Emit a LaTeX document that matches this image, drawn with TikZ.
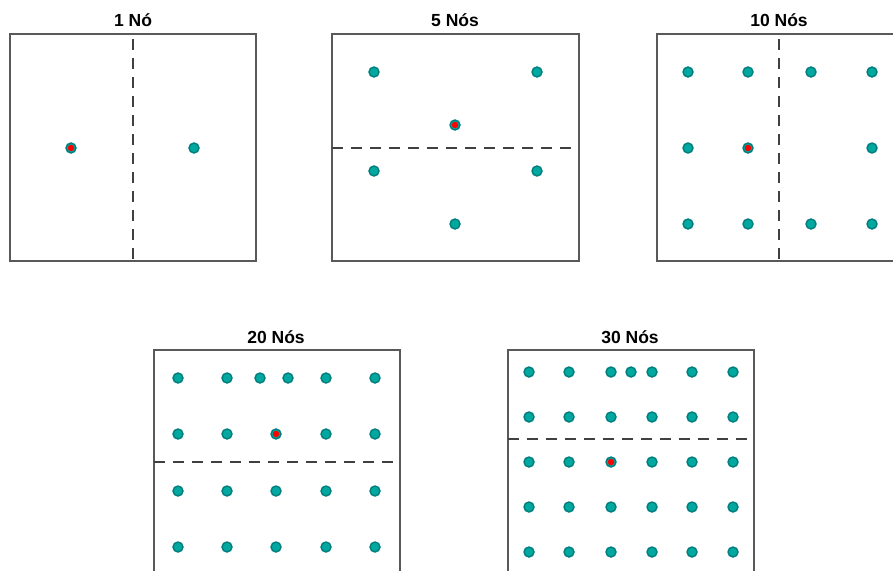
\documentclass[tikz,border=0pt]{standalone}
\usepackage{fontspec}
\setmainfont{Liberation Sans}
\definecolor{dotfill}{RGB}{0,168,160}
\definecolor{dotline}{RGB}{0,125,125}
\begin{document}
\begin{tikzpicture}[x=1pt,y=-1pt,
  frame/.style={draw=black!65,line width=1.3pt},
  divider/.style={draw=black!75,line width=1.2pt,dash pattern=on 11pt off 8pt},
  vdivider/.style={divider,dash phase=14pt},
  dot/.style={circle,fill=dotfill,draw=dotline,line width=1.4pt,minimum size=10pt,inner sep=0pt},
  hot/.style={circle,fill=red,draw=none,minimum size=6.5pt,inner sep=0pt},
  title/.style={font=\fontsize{17.5}{20}\selectfont\bfseries,anchor=base}]
\useasboundingbox (0,0) rectangle (893,570);
\clip (0,0) rectangle (893,570);
% ---------- 1 No
\node[title] (t1) at (133,27) {1 Nó};
\draw[frame] (10,34) rectangle (256,261);
\coordinate (d1a) at (133,34); \coordinate (d1b) at (133,261);
\draw[vdivider] (d1a) -- (d1b);
\node[dot] (p1a) at (71,148) {}; \node[hot] at (p1a) {};
\node[dot] (p1b) at (194,148) {};
% ---------- 5 Nos
\node[title] (t2) at (455,27) {5 Nós};
\draw[frame] (332,34) rectangle (579,261);
\coordinate (d2a) at (332,148); \coordinate (d2b) at (579,148);
\draw[divider] (d2a) -- (d2b);
\node[dot] (p2a) at (374,72) {};
\node[dot] (p2b) at (537,72) {};
\node[dot] (p2c) at (455,125) {}; \node[hot] at (p2c) {};
\node[dot] (p2d) at (374,171) {};
\node[dot] (p2e) at (537,171) {};
\node[dot] (p2f) at (455,224) {};
% ---------- 10 Nos
\node[title] (t3) at (779,27) {10 Nós};
\draw[frame] (657,34) rectangle (910,261);
\coordinate (d3a) at (779,34); \coordinate (d3b) at (779,261);
\draw[vdivider] (d3a) -- (d3b);
\foreach \x [count=\i] in {688,748,811,872}{
  \node[dot] (p3a\i) at (\x,72) {};
  \node[dot] (p3c\i) at (\x,224) {};
}
\node[dot] (p3b1) at (688,148) {};
\node[dot] (p3b2) at (748,148) {}; \node[hot] at (p3b2) {};
\node[dot] (p3b4) at (872,148) {};
% ---------- 20 Nos
\node[title] (t4) at (276,343) {20 Nós};
\draw[frame] (154,580) -- (154,350) -- (400,350) -- (400,580);
\coordinate (d4a) at (154,462); \coordinate (d4b) at (398,462);
\draw[divider] (d4a) -- (d4b);
\foreach \x [count=\i] in {178,227,260,288,326,375}{
  \node[dot] (p4a\i) at (\x,378) {};
}
\foreach \x [count=\i] in {178,227,276,326,375}{
  \node[dot] (p4b\i) at (\x,434) {};
  \node[dot] (p4c\i) at (\x,491) {};
  \node[dot] (p4d\i) at (\x,547) {};
}
\node[hot] at (p4b3) {};
% ---------- 30 Nos
\node[title] (t5) at (630,343) {30 Nós};
\draw[frame] (508,580) -- (508,350) -- (754,350) -- (754,580);
\coordinate (d5a) at (508,439); \coordinate (d5b) at (754,439);
\draw[divider] (d5a) -- (d5b);
\foreach \x [count=\i] in {529,569,611,631,652,692,733}{
  \node[dot] (p5a\i) at (\x,372) {};
}
\foreach \x [count=\i] in {529,569,611,652,692,733}{
  \node[dot] (p5b\i) at (\x,417) {};
  \node[dot] (p5c\i) at (\x,462) {};
  \node[dot] (p5d\i) at (\x,507) {};
  \node[dot] (p5e\i) at (\x,552) {};
}
\node[hot] at (p5c3) {};
\end{tikzpicture}
\end{document}
